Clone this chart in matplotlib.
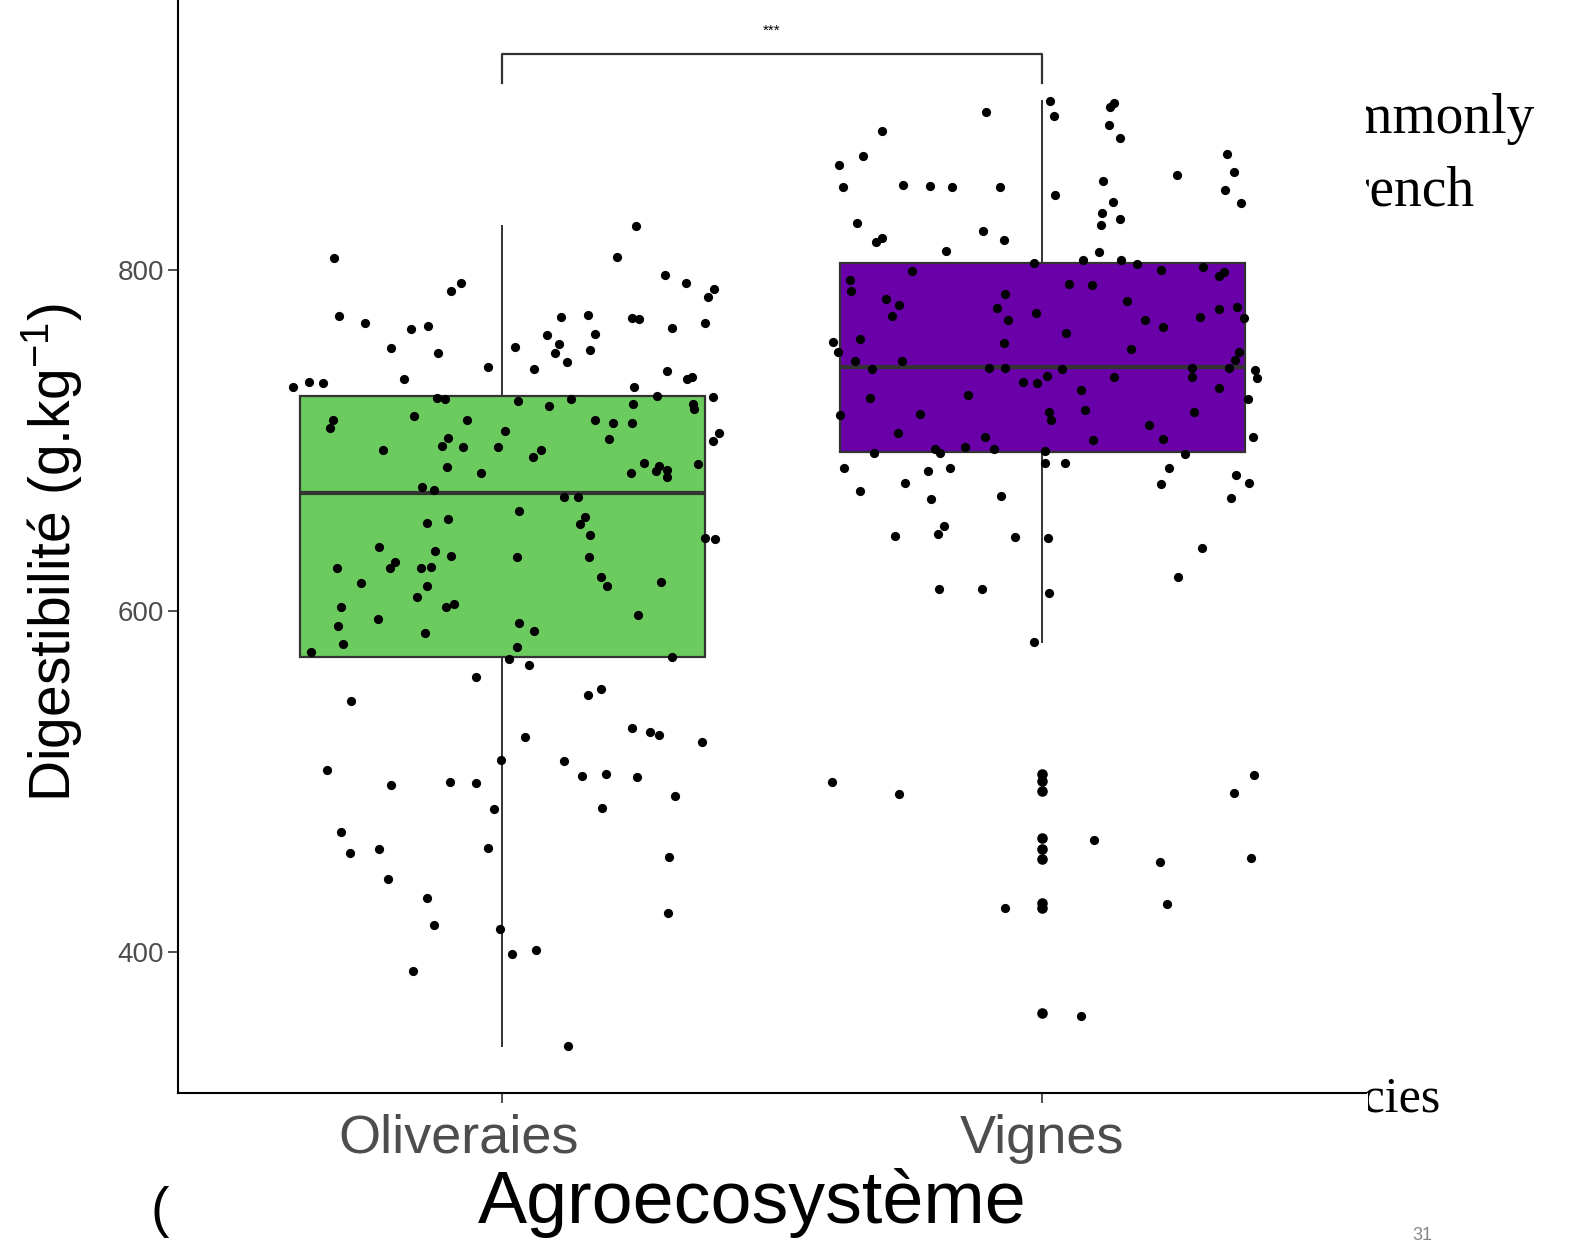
import matplotlib
matplotlib.use("Agg")
import matplotlib.pyplot as plt
from matplotlib.patches import Rectangle
from matplotlib.transforms import ScaledTranslation

plt.rcParams["mathtext.fontset"] = "custom"
plt.rcParams["mathtext.rm"] = "Liberation Sans"
plt.rcParams["mathtext.it"] = "Liberation Sans"

# ---------------- data ----------------
categories = ["Oliveraies", "Vignes"]
box_colors = ["#6BCB5E", "#6A00A8"]

# box statistics (g/kg)
oli_stats = dict(whislo=345, q1=573, med=669, q3=726, whishi=826)
vig_stats = dict(whislo=582, q1=693, med=743, q3=804, whishi=899)
vig_outliers = [504.4, 500.3, 494.4, 466.9, 460.4, 454.5, 428.7, 425.8, 364.2]

# jittered observations: horizontal jitter offset, value
oli_jit = [-0.311, -0.076, -0.094, -0.302, -0.254, -0.169, -0.137, -0.206, -0.119, -0.026,
           -0.387, -0.357, -0.331, -0.181, -0.120, -0.106, -0.313, -0.319, -0.163, -0.065,
           -0.100, -0.111, -0.072, -0.007, -0.220, -0.102, -0.039, -0.148, -0.126, 0.248,
           0.213, 0.302, 0.341, 0.393, 0.381, 0.109, 0.159, 0.241, 0.254, 0.315,
           0.376, 0.083, 0.172, 0.106, 0.098, 0.163, 0.024, 0.120, 0.059, 0.306,
           0.343, 0.352, 0.244, 0.287, 0.391, 0.030, 0.128, 0.087, 0.243, 0.354,
           0.356, 0.006, 0.172, 0.206, 0.241, 0.198, 0.402, 0.391, 0.072, 0.057,
           0.263, 0.239, 0.285, 0.291, 0.306, 0.306, 0.363, -0.139, -0.100, -0.228,
           -0.124, -0.094, -0.306, -0.198, -0.207, -0.150, -0.131, -0.261, -0.139, -0.157,
           -0.298, -0.104, -0.089, -0.230, -0.304, -0.143, -0.294, -0.354, -0.048, -0.280,
           -0.324, -0.002, 0.115, 0.141, 0.031, 0.154, 0.144, 0.163, 0.376, 0.394,
           0.028, 0.161, 0.183, 0.194, 0.294, 0.252, 0.031, 0.059, 0.028, 0.013,
           0.315, 0.050, 0.183, 0.159, 0.241, 0.274, 0.291, 0.370, 0.043, 0.115,
           0.148, 0.193, 0.250, -0.206, -0.096, -0.048, -0.015, -0.298, -0.281, -0.228,
           -0.026, -0.211, -0.139, -0.126, -0.004, -0.165, 0.320, 0.185, 0.309, 0.307,
           0.019, 0.063, 0.122]
oli_val = [807.0, 792.4, 787.7, 773.0, 768.9, 765.4, 767.2, 754.3, 751.3, 743.1,
           731.4, 734.3, 733.7, 736.1, 725.0, 724.3, 712.0, 707.3, 714.4, 712.0,
           701.5, 696.8, 696.2, 696.2, 694.4, 684.4, 680.9, 672.7, 671.0, 825.8,
           807.6, 797.1, 792.4, 788.9, 784.2, 772.4, 773.6, 771.8, 771.2, 765.9,
           768.9, 761.9, 762.5, 756.6, 751.3, 753.1, 754.8, 746.0, 741.9, 740.8,
           736.1, 737.2, 731.4, 726.1, 725.5, 723.2, 724.3, 720.2, 721.4, 721.4,
           718.5, 705.6, 712.0, 710.3, 710.3, 700.9, 704.4, 699.7, 694.4, 690.3,
           686.8, 680.9, 682.1, 685.0, 682.7, 678.6, 686.2, 651.6, 653.9, 637.6,
           635.2, 632.3, 625.2, 628.7, 625.2, 625.2, 625.8, 616.4, 614.7, 608.2,
           602.4, 602.4, 604.1, 595.3, 591.2, 587.1, 580.6, 576.0, 561.3, 547.2,
           506.7, 512.6, 666.8, 666.8, 658.6, 655.1, 651.0, 644.6, 642.8, 642.2,
           631.7, 631.7, 620.0, 614.7, 617.0, 597.6, 593.0, 588.3, 578.9, 571.9,
           573.0, 568.3, 554.3, 550.7, 531.4, 529.0, 527.3, 523.2, 526.1, 512.0,
           503.2, 504.4, 502.6, 498.0, 499.7, 499.1, 483.9, 470.4, 458.0, 460.4,
           461.0, 442.8, 431.7, 415.8, 413.5, 388.9, 491.5, 484.4, 455.7, 422.9,
           398.8, 401.2, 344.9]

vig_jit = [-0.104, -0.296, -0.331, -0.376, -0.369, -0.257, -0.207, -0.167, -0.078, -0.343,
           -0.307, -0.296, -0.109, -0.070, -0.178, -0.015, -0.241, -0.356, -0.354, -0.289,
           -0.265, -0.278, -0.069, -0.083, -0.063, -0.011, -0.387, -0.378, -0.337, -0.346,
           -0.259, -0.315, -0.098, -0.070, -0.069, -0.035, -0.009, 0.015, 0.022, 0.133,
           0.126, 0.124, 0.144, 0.343, 0.356, 0.339, 0.369, 0.250, 0.113, 0.024,
           0.131, 0.111, 0.109, 0.144, 0.106, 0.076, 0.146, 0.176, 0.220, 0.298,
           0.328, 0.337, 0.050, 0.093, 0.157, 0.191, 0.224, 0.293, 0.328, 0.361,
           0.374, 0.044, 0.165, 0.365, 0.357, 0.346, 0.037, 0.278, 0.278, 0.133,
           0.009, 0.394, 0.398, -0.319, -0.137, -0.374, -0.226, -0.267, -0.106, -0.311,
           -0.198, -0.189, -0.143, -0.089, -0.367, -0.211, -0.170, -0.254, -0.337, -0.206,
           -0.076, -0.181, -0.193, -0.272, -0.050, -0.191, -0.111, -0.015, 0.072, 0.328,
           0.381, 0.013, 0.017, 0.080, 0.281, 0.198, 0.094, 0.224, 0.391, 0.006,
           0.265, 0.006, 0.043, 0.235, 0.220, 0.359, 0.383, 0.350, 0.011, 0.296,
           0.252, 0.013, -0.389, -0.265, -0.069, 0.096, 0.219, 0.231, 0.356, 0.393,
           0.387, 0.072]
vig_val = [892.7, 881.5, 866.9, 861.6, 848.7, 849.8, 849.3, 848.7, 848.7, 827.6,
           816.4, 818.8, 822.9, 817.6, 811.1, 804.1, 799.4, 794.1, 787.7, 783.0,
           779.5, 773.0, 785.9, 777.7, 770.7, 774.8, 757.8, 751.9, 759.5, 746.6,
           746.6, 741.9, 742.5, 757.2, 742.5, 734.3, 733.7, 899.1, 890.3, 897.9,
           895.6, 885.0, 877.4, 868.0, 857.5, 846.9, 839.3, 855.7, 852.2, 844.0,
           839.9, 833.4, 826.4, 829.9, 810.5, 805.9, 805.9, 803.5, 800.0, 801.8,
           796.5, 798.8, 791.8, 791.2, 781.8, 770.7, 766.6, 772.4, 777.1, 778.3,
           771.8, 763.0, 753.7, 751.9, 747.2, 742.5, 741.9, 742.5, 737.2, 737.2,
           737.8, 741.3, 736.6, 725.0, 726.7, 715.0, 715.5, 704.4, 702.0, 692.6,
           695.0, 692.6, 696.2, 695.0, 683.9, 682.1, 683.9, 675.1, 670.4, 665.7,
           667.4, 649.9, 645.2, 644.0, 643.4, 612.9, 612.9, 581.8, 729.6, 730.8,
           724.3, 716.7, 712.0, 717.9, 716.7, 709.1, 700.3, 700.9, 702.0, 693.8,
           692.1, 686.8, 686.8, 683.9, 674.5, 679.8, 675.1, 666.3, 642.8, 637.0,
           620.0, 610.6, 499.7, 492.6, 425.8, 465.7, 452.8, 428.1, 493.3, 503.8,
           455.1, 362.5]

yticks = [400, 600, 800]
signif_label = "***"
signif_y = 927
y_label = "Digestibilité (g.kg$^{\\mathregular{-1}}$)"
x_label = "Agroecosystème"

# ---------------- figure ----------------
W, H = 1573, 1247
fig = plt.figure(figsize=(W / 100, H / 100), dpi=100)
fig.patch.set_facecolor("white")

ax = fig.add_axes([178 / W, 1 - 1093 / H, 1188 / W, 1093 / H])
ax.set_facecolor("white")
ax.set_xlim(0.4, 2.6)
ax.set_ylim(317.3, 958.4)

positions = [1, 2]
stats = []
for lab, st, fl in [(categories[0], oli_stats, []), (categories[1], vig_stats, vig_outliers)]:
    d = dict(st)
    d["label"] = lab
    d["fliers"] = fl
    stats.append(d)

bp = ax.bxp(stats, positions=positions, widths=0.75, patch_artist=True,
            showcaps=False, showfliers=True,
            boxprops=dict(edgecolor="#333333", linewidth=1.6),
            medianprops=dict(color="#333333", linewidth=3.0),
            whiskerprops=dict(color="#333333", linewidth=1.4),
            flierprops=dict(marker="o", markerfacecolor="black", markeredgecolor="black",
                            markersize=6.6, linestyle="none"))
for patch, c in zip(bp["boxes"], box_colors):
    patch.set_facecolor(c)

ax.scatter([positions[0] + j for j in oli_jit], oli_val, s=44, color="black", zorder=4,
           linewidths=0)
ax.scatter([positions[1] + j for j in vig_jit], vig_val, s=44, color="black", zorder=4,
           linewidths=0)

# significance bracket
ax.plot([1, 1, 2, 2], [signif_y - 17, signif_y, signif_y, signif_y - 17],
        color="#333333", linewidth=1.6, clip_on=False)
ax.text(1.5, signif_y + 9, signif_label, ha="center", va="bottom", fontsize=11,
        family="Liberation Sans")

# axes styling (theme_classic)
for s in ["top", "right"]:
    ax.spines[s].set_visible(False)
for s in ["left", "bottom"]:
    ax.spines[s].set_linewidth(1.5)
    ax.spines[s].set_color("black")

ax.set_yticks(yticks)
ax.set_yticklabels([str(v) for v in yticks], family="Liberation Sans", fontsize=20,
                   color="#4D4D4D")
ax.tick_params(axis="y", length=7, width=1.2, color="#333333", pad=3)
ax.set_xticks(positions)
ax.set_xticklabels(categories, family="Liberation Sans", fontsize=39, color="#4D4D4D")
ax.tick_params(axis="x", length=7, width=1.2, color="#333333", pad=8)
lbl0 = ax.get_xticklabels()[0]
lbl0.set_transform(lbl0.get_transform() + ScaledTranslation(-0.43, 0, fig.dpi_scale_trans))

# axis titles
fig.text(52 / W, 1 - 553 / H, y_label, rotation=90, ha="center", va="center",
         fontsize=41, family="Liberation Sans", color="black")
fig.text(752 / W, 1 - 1203 / H, x_label, ha="center", va="center",
         fontsize=53, family="Liberation Sans", color="black")

# slide text behind the chart (partially hidden)
fig.text(1535 / W, 1 - 133 / H, "commonly", ha="right", va="baseline", fontsize=40,
         family="Liberation Serif", zorder=-2)
fig.text(1475 / W, 1 - 205 / H, "French", ha="right", va="baseline", fontsize=40,
         family="Liberation Serif", zorder=-2)
fig.text(1440 / W, 1 - 1112 / H, "species", ha="right", va="baseline", fontsize=36,
         family="Liberation Serif", zorder=-2)
fig.patches.append(Rectangle((12 / W, 1 - 1185 / H), (1368 - 12) / W, (1185 - 1093) / H,
                             transform=fig.transFigure, facecolor="white",
                             edgecolor="none", zorder=-1))
fig.text(160 / W, 1 - 1212 / H, "(", ha="center", va="center", fontsize=40,
         family="Liberation Sans", zorder=-2)
fig.text(1422 / W, 1 - 1236 / H, "31", ha="center", va="center", fontsize=13,
         family="Liberation Sans", color="#888888")

fig.savefig("out.png", dpi=100, facecolor="white")
